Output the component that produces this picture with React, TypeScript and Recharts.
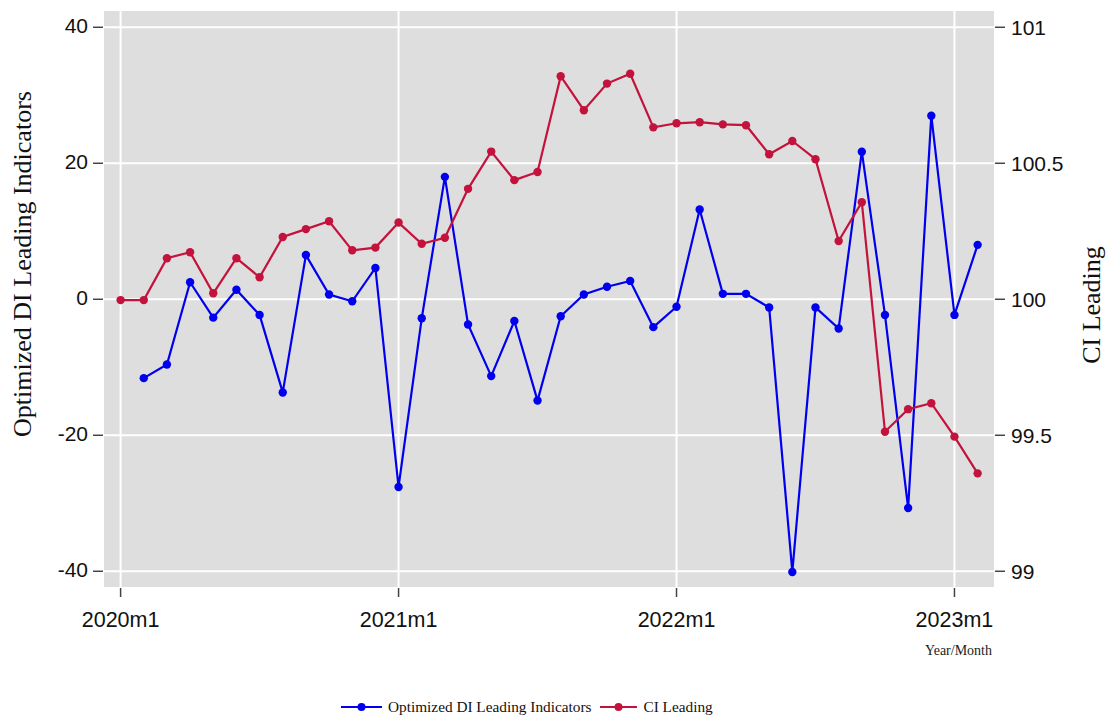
import React from "react";
import { ComposedChart, Line, XAxis, YAxis, CartesianGrid, Legend } from "recharts";

const months = [
  "2020m1","2020m2","2020m3","2020m4","2020m5","2020m6","2020m7","2020m8","2020m9","2020m10","2020m11","2020m12",
  "2021m1","2021m2","2021m3","2021m4","2021m5","2021m6","2021m7","2021m8","2021m9","2021m10","2021m11","2021m12",
  "2022m1","2022m2","2022m3","2022m4","2022m5","2022m6","2022m7","2022m8","2022m9","2022m10","2022m11","2022m12",
  "2023m1","2023m2",
];

const diLeading: (number | null)[] = [
  null, -11.6, -9.6, 2.5, -2.7, 1.4, -2.3, -13.7, 6.5, 0.7, -0.3, 4.6,
  -27.6, -2.8, 18.0, -3.7, -11.3, -3.2, -14.9, -2.5, 0.7, 1.85, 2.7, -4.1,
  -1.1, 13.2, 0.8, 0.8, -1.2, -40.1, -1.2, -4.3, 21.7, -2.3, -30.7, 27.0,
  -2.3, 8.0,
];

const ciLeading: number[] = [
  99.997, 99.997, 100.151, 100.173, 100.022, 100.151, 100.081, 100.229, 100.258, 100.287, 100.18, 100.19,
  100.282, 100.204, 100.226, 100.406, 100.543, 100.438, 100.468, 100.82, 100.695, 100.793, 100.829, 100.632,
  100.647, 100.651, 100.643, 100.64, 100.533, 100.582, 100.515, 100.214, 100.357, 99.513, 99.596, 99.618,
  99.495, 99.36,
];

const xTickMonths = ["2020m1", "2021m1", "2022m1", "2023m1"];
const leftTicks = [-40, -20, 0, 20, 40];
const rightTicks = [99, 99.5, 100, 100.5, 101];

const BLUE = "#0000ee";
const RED = "#c3123c";

const data = months.map((m, i) => ({ idx: i, month: m, di: diLeading[i], ci: ciLeading[i] }));
const xTicks = xTickMonths.map((m) => months.indexOf(m));

const sans = "'Liberation Sans', Arial, sans-serif";
const serif = "'Liberation Serif', 'Times New Roman', serif";

const renderLegend = () => (
  <div style={{ display: "flex", justifyContent: "flex-start", alignItems: "center", height: 30, fontFamily: serif, fontSize: 15.3, color: "#111", paddingLeft: 341 }}>
    <svg width={41} height={10} style={{ marginRight: 6 }}>
      <line x1={0} y1={5} x2={41} y2={5} stroke={BLUE} strokeWidth={2} />
      <circle cx={20.5} cy={5} r={4} fill={BLUE} />
    </svg>
    <span style={{ marginRight: 9 }}>Optimized DI Leading Indicators</span>
    <svg width={37} height={10} style={{ marginRight: 6 }}>
      <line x1={0} y1={5} x2={37} y2={5} stroke={RED} strokeWidth={2} />
      <circle cx={18.5} cy={5} r={4} fill={RED} />
    </svg>
    <span>CI Leading</span>
  </div>
);

export default function App() {
  return (
    <div style={{ position: "absolute", left: 0, top: 0, width: 1108, height: 717, background: "#fff" }}>
      <ComposedChart width={1108} height={717} data={data} margin={{ top: 10, right: 0, bottom: 0, left: 0 }}>
        <CartesianGrid yAxisId="left" stroke="#ffffff" strokeWidth={2} fill="#dedede" fillOpacity={1} />
        <XAxis
          dataKey="idx"
          type="number"
          domain={[-0.76, 37.75]}
          ticks={xTicks}
          tickFormatter={(v: number) => months[v]}
          axisLine={false}
          tickSize={9}
          tickLine={{ stroke: "#444", strokeWidth: 1.5 }}
          tick={{ fill: "#111", fontSize: 21.5, fontFamily: sans }}
          tickMargin={15}
          height={99}
          label={{ value: "Year/Month", position: "insideTopRight", offset: 0, dy: 57, dx: -3, fill: "#222", fontSize: 14, fontFamily: serif }}
        />
        <YAxis
          yAxisId="left"
          orientation="left"
          domain={[-42.46, 42.54]}
          ticks={leftTicks}
          allowDataOverflow
          width={103}
          axisLine={false}
          tickSize={10}
          tickLine={{ stroke: "#444", strokeWidth: 1.5 }}
          tick={{ fill: "#111", fontSize: 21, fontFamily: sans, dy: -2 }}
          tickMargin={5}
          label={{ value: "Optimized DI Leading Indicators", angle: -90, position: "insideLeft", offset: 22, dy: -35, style: { textAnchor: "middle" }, fill: "#111", fontSize: 26, fontFamily: serif }}
        />
        <YAxis
          yAxisId="right"
          orientation="right"
          domain={[98.9385, 101.0635]}
          ticks={rightTicks}
          allowDataOverflow
          width={113}
          axisLine={false}
          tickSize={10}
          tickLine={{ stroke: "#444", strokeWidth: 1.5 }}
          tick={{ fill: "#111", fontSize: 21, fontFamily: sans }}
          tickMargin={6}
          label={{ value: "CI Leading", angle: -90, position: "insideRight", offset: 17, dy: 6, style: { textAnchor: "middle" }, fill: "#111", fontSize: 26, fontFamily: serif }}
        />
        <Legend verticalAlign="bottom" align="left" height={30} content={renderLegend} wrapperStyle={{ bottom: -5, left: 0 }} />
        <Line
          yAxisId="left"
          dataKey="di"
          stroke={BLUE}
          strokeWidth={2.2}
          dot={{ r: 4.2, fill: BLUE, stroke: BLUE, strokeWidth: 0 }}
          isAnimationActive={false}
          connectNulls={false}
        />
        <Line
          yAxisId="right"
          dataKey="ci"
          stroke={RED}
          strokeWidth={2.2}
          dot={{ r: 4.2, fill: RED, stroke: RED, strokeWidth: 0 }}
          isAnimationActive={false}
        />
      </ComposedChart>
    </div>
  );
}
